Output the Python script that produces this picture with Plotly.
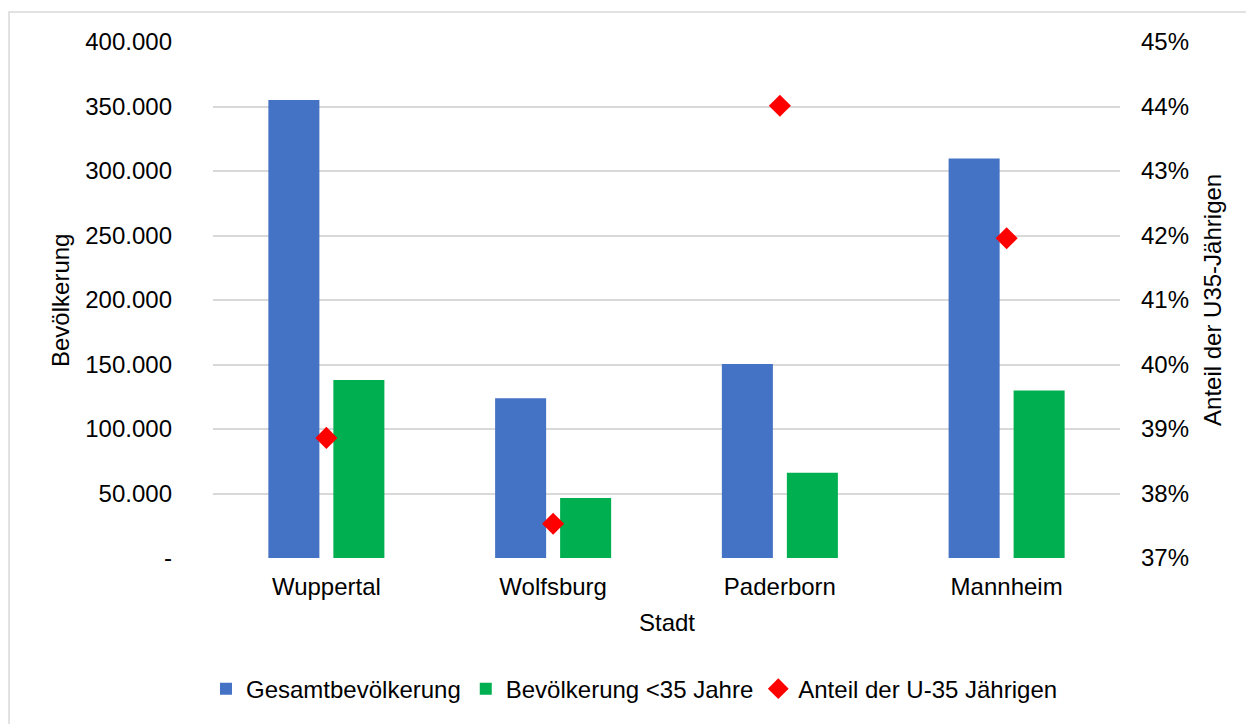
import plotly.graph_objects as go

# Bevölkerung je Stadt
staedte = ["Wuppertal", "Wolfsburg", "Paderborn", "Mannheim"]
gesamt = [355100, 123900, 150300, 309600]
unter35 = [138000, 46500, 66150, 129900]
anteil = [u / g for u, g in zip(unter35, gesamt)]

left_ticks = [0, 50000, 100000, 150000, 200000, 250000, 300000, 350000, 400000]
left_text = ["-", "50.000", "100.000", "150.000", "200.000", "250.000",
             "300.000", "350.000", "400.000"]
right_ticks = [0.37, 0.38, 0.39, 0.40, 0.41, 0.42, 0.43, 0.44, 0.45]
right_text = ["37%", "38%", "39%", "40%", "41%", "42%", "43%", "44%", "45%"]

FONT = "Liberation Sans, Arial, sans-serif"
GRID = "#d9d9d9"
FS = 24

fig = go.Figure()
fig.add_trace(go.Bar(x=staedte, y=gesamt, name="Gesamtbevölkerung",
                     marker=dict(color="#4472C4", line=dict(width=0))))
fig.add_trace(go.Bar(x=staedte, y=unter35, name="Bevölkerung <35 Jahre",
                     marker=dict(color="#00B050", line=dict(width=0))))
fig.add_trace(go.Scatter(x=staedte, y=anteil, name="Anteil der U-35 Jährigen",
                         mode="markers", yaxis="y2",
                         marker=dict(symbol="diamond", size=17, color="#FF0000",
                                     line=dict(width=0))))

fig.update_layout(
    width=1246, height=724,
    margin=dict(l=213, r=126, t=42, b=163.5),
    paper_bgcolor="white", plot_bgcolor="white",
    font=dict(family=FONT, size=FS, color="#000000"),
    barmode="group", bargap=0.4267, bargroupgap=0.215,
    showlegend=True,
    legend=dict(orientation="h", x=0.4647, xanchor="center", y=-0.254,
                yanchor="middle", font=dict(size=FS), itemwidth=30,
                traceorder="normal", bgcolor="rgba(0,0,0,0)"),
    xaxis=dict(showgrid=False, showline=False, zeroline=False,
               ticks="", ticklabelstandoff=12, tickfont=dict(size=FS)),
    yaxis=dict(range=[0, 400000], tickvals=left_ticks, ticktext=left_text,
               showgrid=True, gridcolor=GRID, gridwidth=1.5,
               zeroline=False, showline=False, ticks="",
               ticklabelstandoff=40, tickfont=dict(size=FS)),
    yaxis2=dict(range=[0.37, 0.45], tickvals=right_ticks, ticktext=right_text,
                overlaying="y", side="right", showgrid=False, zeroline=False,
                showline=False, ticks="", ticklabelstandoff=20,
                tickfont=dict(size=FS)),
    annotations=[
        dict(text="Stadt", xref="paper", yref="paper", x=0.5, y=-0.1244,
             showarrow=False, xanchor="center", yanchor="middle",
             font=dict(size=FS)),
        dict(text="Bevölkerung", xref="paper", yref="paper", x=-0.1687, y=0.5,
             showarrow=False, xanchor="center", yanchor="middle", textangle=-90,
             font=dict(size=FS)),
        dict(text="Anteil der U35-Jährigen", xref="paper", yref="paper",
             x=1.1014, y=0.5, showarrow=False, xanchor="center",
             yanchor="middle", textangle=-90, font=dict(size=FS)),
    ],
    shapes=[
        dict(type="rect", xref="paper", yref="paper",
             x0=-0.2249, x1=1.25, y0=-0.4, y1=1.0579,
             line=dict(color="#d9d9d9", width=1.5), fillcolor="rgba(0,0,0,0)",
             layer="below"),
    ],
)

fig.write_html("out.html")
